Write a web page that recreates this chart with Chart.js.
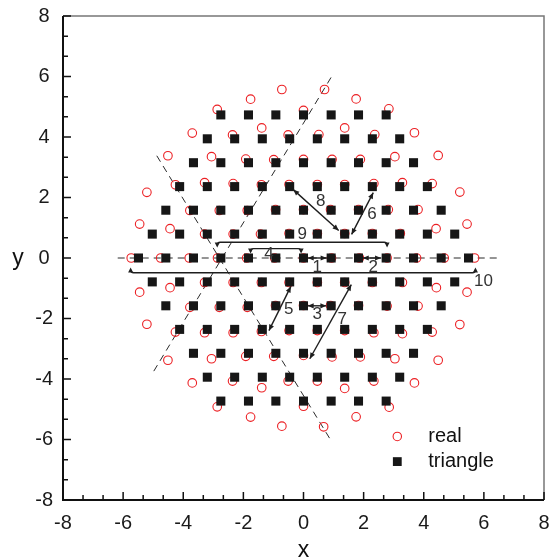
<!DOCTYPE html>
<html>
<head>
<meta charset="utf-8">
<script src="https://cdn.jsdelivr.net/npm/chart.js@4.4.0/dist/chart.umd.min.js"></script>
<style>
  html, body { margin: 0; padding: 0; background: #fff; }
</style>
</head>
<body>
<canvas id="latticeChart" width="554" height="560"></canvas>
<script>
const FONT = "'Liberation Sans', Arial, sans-serif";

// tick labels
const xTicks = [-8, -6, -4, -2, 0, 2, 4, 6, 8];
const yTicks = [-8, -6, -4, -2, 0, 2, 4, 6, 8];

// "triangle" lattice, one y per row and the x values of that row
const triRowY = [4.73, 3.94, 3.15, 2.36, 1.58, 0.79, 0, -0.79, -1.58, -2.36, -3.15, -3.94, -4.73];
const triRowX = [
    [-2.75, -1.83, -0.92, 0, 0.92, 1.83, 2.75],
    [-3.20, -2.29, -1.37, -0.46, 0.46, 1.37, 2.29, 3.20],
    [-3.66, -2.75, -1.83, -0.92, 0, 0.92, 1.83, 2.75, 3.66],
    [-4.12, -3.20, -2.29, -1.37, -0.46, 0.46, 1.37, 2.29, 3.20, 4.12],
    [-4.58, -3.66, -2.75, -1.83, -0.92, 0, 0.92, 1.83, 2.75, 3.66, 4.58],
    [-5.03, -4.12, -3.20, -2.29, -1.37, -0.46, 0.46, 1.37, 2.29, 3.20, 4.12, 5.03],
    [-5.49, -4.58, -3.66, -2.75, -1.83, -0.92, 0, 0.92, 1.83, 2.75, 3.66, 4.58, 5.49],
    [-5.03, -4.12, -3.20, -2.29, -1.37, -0.46, 0.46, 1.37, 2.29, 3.20, 4.12, 5.03],
    [-4.58, -3.66, -2.75, -1.83, -0.92, 0, 0.92, 1.83, 2.75, 3.66, 4.58],
    [-4.12, -3.20, -2.29, -1.37, -0.46, 0.46, 1.37, 2.29, 3.20, 4.12],
    [-3.66, -2.75, -1.83, -0.92, 0, 0.92, 1.83, 2.75, 3.66],
    [-3.20, -2.29, -1.37, -0.46, 0.46, 1.37, 2.29, 3.20],
    [-2.75, -1.83, -0.92, 0, 0.92, 1.83, 2.75]
];

// "real" positions, read row by row from the top
const realX = [
    -2.87, -1.76, -0.72, 0.00, 0.70, 1.75, 2.84,
    -3.70, -2.36, -1.39, -0.51, 0.51, 1.37, 2.37, 3.69,
    -4.51, -3.06, -1.92, -0.99, 0.00, 0.95, 1.89, 3.04, 4.48,
    -4.26, -3.29, -2.34, -1.40, -0.48, 0.46, 1.37, 2.34, 3.29, 4.28,
    -5.21, -3.78, -2.80, -1.87, -0.93, 0.00, 0.90, 1.83, 2.82, 3.81, 5.20,
    -5.45, -4.44, -3.29, -2.34, -1.43, -0.48, 0.46, 1.37, 2.29, 3.22, 4.41, 5.44,
    -5.73, -4.75, -3.80, -2.86, -1.89, -0.96, 0.00, 0.93, 1.86, 2.78, 3.76, 4.68, 5.69,
    -5.45, -4.44, -3.29, -2.34, -1.40, -0.48, 0.46, 1.37, 2.29, 3.29, 4.42, 5.44,
    -5.21, -3.78, -2.80, -1.87, -0.93, 0.00, 0.90, 1.83, 2.78, 3.81, 5.20,
    -4.26, -3.29, -2.34, -1.40, -0.48, 0.46, 1.37, 2.34, 3.29, 4.28,
    -4.51, -3.06, -1.92, -0.99, 0.00, 0.95, 1.89, 3.04, 4.48,
    -3.70, -2.36, -1.39, -0.51, 0.46, 1.37, 2.34, 3.69,
    -2.87, -1.76, -0.72, 0.00, 0.67, 1.75, 2.85
];
const realY = [
    4.91, 5.25, 5.57, 4.88, 5.57, 5.26, 4.93,
    4.13, 4.07, 4.30, 4.07, 4.08, 4.30, 4.08, 4.14,
    3.38, 3.35, 3.27, 3.25, 3.26, 3.26, 3.26, 3.35, 3.39,
    2.42, 2.49, 2.46, 2.42, 2.43, 2.43, 2.43, 2.46, 2.49, 2.46,
    2.17, 1.57, 1.57, 1.57, 1.60, 1.60, 1.60, 1.60, 1.60, 1.60, 2.18,
    1.12, 0.97, 0.79, 0.79, 0.79, 0.81, 0.81, 0.81, 0.81, 0.81, 0.97, 1.12,
    0, 0, 0, 0, 0, 0, 0, 0, 0, 0, 0, 0, 0,
    -1.13, -0.98, -0.81, -0.81, -0.81, -0.81, -0.81, -0.81, -0.81, -0.81, -0.98, -1.13,
    -2.19, -1.63, -1.63, -1.63, -1.57, -1.57, -1.57, -1.57, -1.59, -1.59, -2.20,
    -2.45, -2.47, -2.47, -2.43, -2.40, -2.40, -2.40, -2.47, -2.50, -2.45,
    -3.38, -3.33, -3.25, -3.25, -3.22, -3.27, -3.27, -3.33, -3.38,
    -4.13, -4.07, -4.29, -4.07, -4.07, -4.31, -4.07, -4.13,
    -4.92, -5.26, -5.56, -4.90, -5.58, -5.25, -4.93
];

// dashed guide lines [x1, y1, x2, y2]
const guideLines = [
    [-6.18, 0, 6.48, 0],
    [-4.98, -3.74, 0.99, 6.09],
    [-4.88, 3.38, 0.93, -6.06]
];

// straight double-headed arrows 1, 2, 3, 8
const doubleArrows = [
    [0.14, 0, 0.77, 0],
    [1.97, 0, 2.58, 0],
    [0.14, -1.58, 0.76, -1.58],
    [-0.34, 2.26, 1.17, 0.91]
];

// slanted arrows 5, 6, 7
const slantArrows = [
    [-0.42, -0.94, -1.15, -2.40],
    [1.60, 0.78, 2.32, 2.16],
    [1.59, -0.88, 0.21, -3.33]
];

// bracket arrows 4, 9, 10: [xStart, xEnd, yLine, yTip]
const bracketArrows = [
    [-1.76, -0.08, 0.31, 0.15],
    [-2.87, 2.78, 0.52, 0.35],
    [-5.75, 5.72, -0.49, -0.31]
];

const arrowLabels = ['1', '2', '3', '4', '5', '6', '7', '8', '9', '10'];
const arrowLabelX = [0.46, 2.32, 0.46, -1.15, -0.49, 2.28, 1.29, 0.57, -0.04, 5.99];
const arrowLabelY = [-0.32, -0.30, -1.87, 0.12, -1.68, 1.46, -2.03, 1.88, 0.78, -0.77];

const seriesNames = ['real', 'triangle'];
const REAL_COLOR = 'rgb(236, 32, 36)';
const TRI_COLOR = '#161616';

let triPoints = [];
triRowY.forEach(function (y, i) {
    triRowX[i].forEach(function (x) {
        triPoints.push({ x: x, y: y });
    });
});
let realPoints = realX.map((x, i) => ({ x: x, y: realY[i] }));

function drawHead(ctx, x, y, ang, len, wid) {
    ctx.beginPath();
    ctx.moveTo(x, y);
    ctx.lineTo(x - len * Math.cos(ang) + wid * Math.sin(ang), y - len * Math.sin(ang) - wid * Math.cos(ang));
    ctx.lineTo(x - len * Math.cos(ang) - wid * Math.sin(ang), y - len * Math.sin(ang) + wid * Math.cos(ang));
    ctx.closePath();
    ctx.fill();
}

const latticeExtras = {
    id: 'latticeExtras',
    beforeDatasetsDraw(chart) {
        const { ctx } = chart;
        const sx = chart.scales.x, sy = chart.scales.y;
        ctx.save();
        ctx.strokeStyle = '#2a2a2a';
        ctx.lineWidth = 1;
        ctx.setLineDash([7, 5]);
        guideLines.forEach(function (g) {
            ctx.beginPath();
            ctx.moveTo(sx.getPixelForValue(g[0]), sy.getPixelForValue(g[1]));
            ctx.lineTo(sx.getPixelForValue(g[2]), sy.getPixelForValue(g[3]));
            ctx.stroke();
        });
        ctx.restore();
    },
    afterDatasetsDraw(chart) {
        const { ctx } = chart;
        const sx = chart.scales.x, sy = chart.scales.y;
        ctx.save();
        ctx.strokeStyle = '#1e1e1e';
        ctx.fillStyle = '#1e1e1e';
        ctx.lineWidth = 1.4;

        doubleArrows.concat(slantArrows).forEach(function (a) {
            let x1 = sx.getPixelForValue(a[0]), y1 = sy.getPixelForValue(a[1]);
            let x2 = sx.getPixelForValue(a[2]), y2 = sy.getPixelForValue(a[3]);
            let ang = Math.atan2(y2 - y1, x2 - x1);
            ctx.beginPath();
            ctx.moveTo(x1, y1);
            ctx.lineTo(x2, y2);
            ctx.stroke();
            drawHead(ctx, x2, y2, ang, 6, 2.6);
            drawHead(ctx, x1, y1, ang + Math.PI, 6, 2.6);
        });

        bracketArrows.forEach(function (b) {
            let x1 = sx.getPixelForValue(b[0]), x2 = sx.getPixelForValue(b[1]);
            let yl = sy.getPixelForValue(b[2]), yt = sy.getPixelForValue(b[3]);
            let dir = yt > yl ? 1 : -1;
            let r = 3;
            ctx.beginPath();
            ctx.moveTo(x1, yt - dir * 3);
            ctx.lineTo(x1, yl + dir * r);
            ctx.quadraticCurveTo(x1, yl, x1 + r, yl);
            ctx.lineTo(x2 - r, yl);
            ctx.quadraticCurveTo(x2, yl, x2, yl + dir * r);
            ctx.lineTo(x2, yt - dir * 3);
            ctx.stroke();
            drawHead(ctx, x1, yt, dir * Math.PI / 2, 5, 2.5);
            drawHead(ctx, x2, yt, dir * Math.PI / 2, 5, 2.5);
        });

        ctx.fillStyle = '#333';
        ctx.font = '17px ' + FONT;
        ctx.textAlign = 'center';
        ctx.textBaseline = 'middle';
        arrowLabels.forEach(function (t, i) {
            ctx.fillText(t, sx.getPixelForValue(arrowLabelX[i]), sy.getPixelForValue(arrowLabelY[i]));
        });

        // legend inside the plot
        let lx = sx.getPixelForValue(3.12);
        let ly1 = sy.getPixelForValue(-5.90), ly2 = sy.getPixelForValue(-6.73);
        ctx.strokeStyle = REAL_COLOR;
        ctx.lineWidth = 1.1;
        ctx.beginPath();
        ctx.arc(lx, ly1, 4.2, 0, Math.PI * 2);
        ctx.stroke();
        ctx.fillStyle = TRI_COLOR;
        ctx.fillRect(lx - 4.4, ly2 - 4.4, 8.8, 8.8);
        ctx.fillStyle = '#111';
        ctx.font = '20px ' + FONT;
        ctx.textAlign = 'left';
        ctx.fillText(seriesNames[0], lx + 31, ly1);
        ctx.fillText(seriesNames[1], lx + 31, ly2);
        ctx.restore();
    },
    afterDraw(chart) {
        const { ctx, chartArea } = chart;
        const sx = chart.scales.x, sy = chart.scales.y;
        const { left, right, top, bottom } = chartArea;
        ctx.save();
        // top and right frame
        ctx.strokeStyle = '#777';
        ctx.lineWidth = 1.5;
        ctx.beginPath();
        ctx.moveTo(left, top);
        ctx.lineTo(right, top);
        ctx.lineTo(right, bottom);
        ctx.stroke();
        // left and bottom axes
        ctx.strokeStyle = '#111';
        ctx.lineWidth = 2;
        ctx.beginPath();
        ctx.moveTo(left, top);
        ctx.lineTo(left, bottom);
        ctx.lineTo(right, bottom);
        ctx.stroke();
        // inward ticks, majors every 2, two minors between
        ctx.lineWidth = 1.5;
        ctx.beginPath();
        for (let i = 0; i < xTicks.length; i++) {
            let px = sx.getPixelForValue(xTicks[i]);
            ctx.moveTo(px, bottom);
            ctx.lineTo(px, bottom - 8);
            if (i < xTicks.length - 1) {
                for (let k = 1; k < 3; k++) {
                    let mx = sx.getPixelForValue(xTicks[i] + k * (xTicks[i + 1] - xTicks[i]) / 3);
                    ctx.moveTo(mx, bottom);
                    ctx.lineTo(mx, bottom - 5);
                }
            }
        }
        for (let i = 0; i < yTicks.length; i++) {
            let py = sy.getPixelForValue(yTicks[i]);
            ctx.moveTo(left, py);
            ctx.lineTo(left + 8, py);
            if (i < yTicks.length - 1) {
                for (let k = 1; k < 3; k++) {
                    let my = sy.getPixelForValue(yTicks[i] + k * (yTicks[i + 1] - yTicks[i]) / 3);
                    ctx.moveTo(left, my);
                    ctx.lineTo(left + 5, my);
                }
            }
        }
        ctx.stroke();
        // axis titles
        ctx.fillStyle = '#111';
        ctx.font = '23px ' + FONT;
        ctx.textAlign = 'center';
        ctx.textBaseline = 'alphabetic';
        ctx.fillText('x', (left + right) / 2, 557);
        ctx.fillText('y', 18, 265);
        ctx.restore();
    }
};

new Chart(document.getElementById('latticeChart'), {
    type: 'scatter',
    data: {
        datasets: [
            {
                label: seriesNames[0],
                data: realPoints,
                order: 2,
                pointStyle: 'circle',
                pointRadius: 4.3,
                pointBorderWidth: 1.1,
                pointBorderColor: REAL_COLOR,
                pointBackgroundColor: 'rgba(255,255,255,0)'
            },
            {
                label: seriesNames[1],
                data: triPoints,
                order: 1,
                pointStyle: 'rect',
                pointRadius: 6.4,
                pointBorderWidth: 0,
                pointBackgroundColor: TRI_COLOR
            }
        ]
    },
    options: {
        responsive: false,
        animation: false,
        devicePixelRatio: 1,
        layout: { padding: { left: 0, right: 10, top: 16, bottom: 0 } },
        plugins: {
            legend: { display: false },
            tooltip: { enabled: false }
        },
        scales: {
            x: {
                type: 'linear',
                min: -8,
                max: 8,
                afterFit: function (s) {
                    s.height = 60;
                    s.paddingLeft = 0;
                    s.paddingRight = 0;
                },
                afterBuildTicks: function (s) { s.ticks = xTicks.map(v => ({ value: v })); },
                grid: { display: false, drawTicks: false },
                border: { display: false },
                ticks: {
                    font: { family: FONT, size: 20 },
                    color: '#1a1a1a',
                    padding: 11,
                    maxRotation: 0,
                    autoSkip: false
                }
            },
            y: {
                type: 'linear',
                min: -8,
                max: 8,
                afterFit: function (s) {
                    s.width = 63;
                    s.paddingTop = 0;
                    s.paddingBottom = 0;
                },
                afterBuildTicks: function (s) { s.ticks = yTicks.map(v => ({ value: v })); },
                grid: { display: false, drawTicks: false },
                border: { display: false },
                ticks: {
                    font: { family: FONT, size: 20 },
                    color: '#1a1a1a',
                    padding: 10,
                    crossAlign: 'center',
                    autoSkip: false
                }
            }
        }
    },
    plugins: [latticeExtras]
});
</script>
</body>
</html>
